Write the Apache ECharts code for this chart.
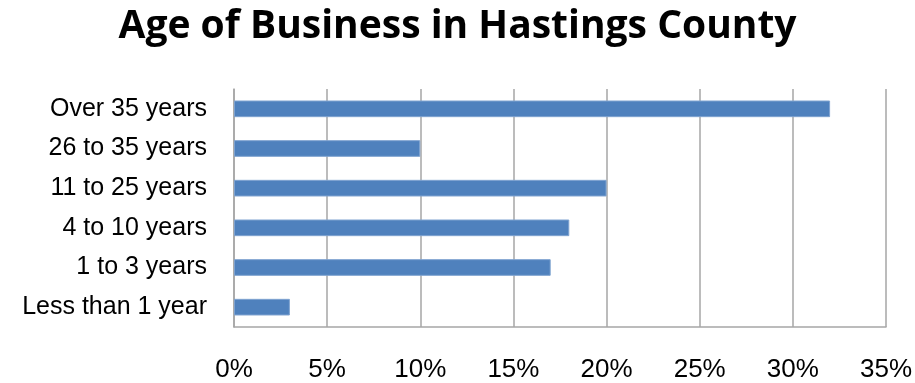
<!DOCTYPE html>
<html>
<head>
<meta charset="utf-8">
<script src="https://cdn.jsdelivr.net/npm/echarts@6/dist/echarts.min.js"></script>
<style>
  html, body { margin: 0; padding: 0; background: #fff; }
  #chart { width: 915px; height: 383px; }
</style>
</head>
<body>
<div id="chart"></div>
<script>
// Age brackets, listed bottom to top as drawn on the category axis
const categories = ['Less than 1 year', '1 to 3 years', '4 to 10 years', '11 to 25 years', '26 to 35 years', 'Over 35 years'];
// Share of businesses in each bracket (percent)
const shares = [3, 17, 18, 20, 10, 32];

const chart = echarts.init(document.getElementById('chart'), null, { renderer: 'canvas' });

chart.setOption({
  backgroundColor: '#ffffff',
  animation: false,
  title: {
    text: 'Age of Business in Hastings County',
    left: 'center',
    top: 2,
    textStyle: {
      fontFamily: 'Open Sans',
      fontWeight: 'bold',
      fontSize: 39,
      color: '#000000'
    }
  },
  grid: {
    left: 234,
    right: 29,
    top: 89,
    bottom: 50,
    containLabel: false
  },
  xAxis: {
    type: 'value',
    min: 0,
    max: 35,
    interval: 5,
    axisLine: { show: true, lineStyle: { color: '#a6a6a6', width: 1.5 } },
    axisTick: { show: false },
    splitLine: { show: true, lineStyle: { color: '#a6a6a6', width: 1.5 } },
    axisLabel: {
      formatter: '{value}%',
      fontFamily: 'Liberation Sans',
      fontSize: 26,
      color: '#000000',
      margin: 30
    }
  },
  yAxis: {
    type: 'category',
    data: categories,
    axisLine: { show: true, lineStyle: { color: '#a6a6a6', width: 1.5 } },
    axisTick: { show: false },
    splitLine: { show: false },
    axisLabel: {
      fontFamily: 'Liberation Sans',
      fontSize: 25,
      color: '#000000',
      margin: 27
    }
  },
  series: [{
    type: 'bar',
    data: shares,
    barWidth: '42%',
    itemStyle: {
      color: '#4f81bd',
      borderColor: '#7fa3d0',
      borderWidth: 1
    }
  }]
});
</script>
</body>
</html>
